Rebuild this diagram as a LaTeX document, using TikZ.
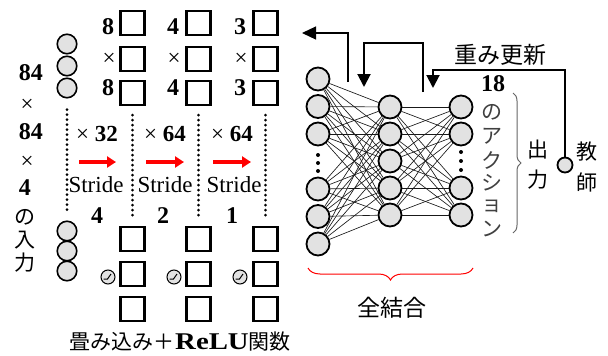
\documentclass[tikz,border=0pt]{standalone}
\usepackage{fontspec}
\usepackage{graphicx}
\setmainfont{Liberation Serif}
\newfontfamily\jpfont{Noto Sans CJK JP}
\usetikzlibrary{arrows.meta,decorations.pathreplacing}
\definecolor{cfill}{HTML}{E2E2E2}
\definecolor{cred}{HTML}{FF0000}
\begin{document}
\begin{tikzpicture}[x=1pt,y=-1pt,
 incirc/.style={circle,draw,line width=1.6pt,fill=cfill,minimum size=19.5pt,inner sep=0pt},
 nncirc/.style={circle,draw,line width=1.8pt,fill=cfill,minimum size=23pt,inner sep=0pt},
 sq/.style={draw,line width=2.2pt,minimum size=24pt,inner sep=0pt},
 lat/.style={font=\fontsize{23}{23}\selectfont,inner sep=0pt},
 latb/.style={font=\fontsize{24}{24}\selectfont\bfseries,inner sep=0pt},
 jp/.style={font=\jpfont\fontsize{21}{21}\selectfont,inner sep=0pt},
 jpb/.style={font=\jpfont\fontsize{23}{23}\selectfont,inner sep=0pt},
 dotline/.style={line width=3pt,dash pattern=on 0pt off 5pt,line cap=round},
 redarrow/.style={draw=cred,line width=4pt,-{Triangle[length=9pt,width=11pt]}},
 conn/.style={line width=0.65pt,black!90},
 fb/.style={line width=2pt,-{Triangle[length=13pt,width=13pt]}},
 reluc/.style={circle,draw,line width=1pt,fill=cfill,minimum size=14pt,inner sep=0pt},
 dotc/.style={circle,fill,inner sep=0pt,minimum size=4pt},
]
\useasboundingbox (0,0) rectangle (608,356);

% ---- input column ----
\foreach \n/\y in {1/44,2/66,3/88,4/231,5/251,6/271}
  \node[incirc] (i\n) at (67,\y) {};
\draw[dotline] ([yshift=-11pt]i3.south) -- ([yshift=9pt]i4.north);

% left label
\node[latb] (L1) at (31,73) {84};
\node[lat]  (L2) at (27,105) {×};
\node[latb] (L3) at (31,132) {84};
\node[lat]  (L4) at (27,162) {×};
\node[latb] (L5) at (25,188) {4};
\node[jp]   (L6) at (25,217) {の};
\node[jp]   (L7) at (25,240) {入};
\node[jp]   (L8) at (25,263) {力};

% ---- conv columns ----
\foreach \c/\x in {1/132.5,2/198.5,3/265.5}{
  \foreach \r/\y in {1/23,2/59,3/93}
    \node[sq] (t\c\r) at (\x,\y) {};
  \foreach \r/\y in {1/239,2/274,3/309}
    \node[sq] (b\c\r) at (\x,\y) {};
  \draw[dotline] ([yshift=-9pt]t\c3.south) -- ([yshift=9pt]b\c1.north);
}
\foreach \c/\x/\d in {1/108/8,2/173/4,3/240/3}{
  \node[latb] (d\c a) at (\x,27) {\d};
  \node[lat]  (d\c b) at (\x+1,59) {×};
  \node[latb] (d\c c) at (\x,88) {\d};
}
\node[lat] (k1) at (97,134) {× \textbf{32}};
\node[lat] (k2) at (165,134) {× \textbf{64}};
\node[lat] (k3) at (232,134) {× \textbf{64}};

\coordinate (ra1) at (79,162);  \coordinate (rb1) at (116,162);
\coordinate (ra2) at (146,162); \coordinate (rb2) at (184,162);
\coordinate (ra3) at (213,162); \coordinate (rb3) at (251,162);
\foreach \k in {1,2,3} \draw[redarrow] (ra\k) -- (rb\k);

\node[lat] (s1) at (96,185) {Stride};
\node[lat] (s2) at (165,185) {Stride};
\node[lat] (s3) at (234,185) {Stride};
\node[latb] (n1) at (97,216) {4};
\node[latb] (n2) at (163,216) {2};
\node[latb] (n3) at (232,216) {1};

% relu symbols
\foreach \k/\x in {1/108,2/174,3/240}{
  \node[reluc] (r\k) at (\x,277) {};
  \draw[line width=1pt] ([shift={(-4.5,2)}]r\k.center) -- ++(4,0) -- ++(3.5,-5);
}

% bottom label
\node[jp,anchor=base east] (bl1) at (175,349) {畳み込み＋};
\node[latb,anchor=base] (bl2) at (212,349) {\scalebox{1.2}[1]{ReLU}};
\node[jp,anchor=base west] (bl3) at (248,349) {関数};

% ---- fully connected ----
\foreach \n/\y in {1/79,2/106.5,3/134,4/189,5/216.5,6/244}
  \node[nncirc] (l\n) at (318,\y) {};
\foreach \n/\y in {1/107,2/134,3/161,4/188,5/215}
  \node[nncirc] (m\n) at (390,\y) {};
\foreach \n/\y in {1/107,2/134,3/188,4/215}
  \node[nncirc] (o\n) at (461,\y) {};
\foreach \a in {1,...,6}
  \foreach \b in {1,...,5}
    \draw[conn] (l\a) -- (m\b);
\foreach \a in {1,...,5}
  \foreach \b in {1,...,4}
    \draw[conn] (m\a) -- (o\b);
\foreach \y [count=\k] in {155,163,171} \node[dotc] (ld\k) at (318,\y) {};
\foreach \y [count=\k] in {152,161,170} \node[dotc] (rd\k) at (461,\y) {};

% feedback arrows
\coordinate (fa1) at (348,82);
\coordinate (fa2) at (302,33);
\draw[line width=1.2pt,-{Triangle[length=14pt,width=13pt]}] (fa1) |- (fa2);
\coordinate (fb1) at (423,92);
\coordinate (fb2) at (364,87);
\draw[fb] (fb1) -- ++(0,-49) -| (fb2);
\node[circle,draw,line width=1.8pt,fill=cfill,minimum size=15pt,inner sep=0pt] (tch) at (565,165) {};
\coordinate (fc0) at (565,70);
\coordinate (fc) at (433,88);
\draw[fb] (tch.north) -- (fc0) -| (fc);

\node[jpb] (upd) at (500,55) {重み更新};
\node[latb] (a18) at (493,84) {18};
\foreach \ch/\y [count=\k] in {の/112,ア/136,ク/160,シ/183,ョ/206,ン/229}
  \node[jp,text=black!75] (ac\k) at (492,\y) {\ch};
\draw[black!60,line width=1pt,decorate,decoration={brace,amplitude=8pt}] (513,93) -- (513,233);
\node[jp] (out1) at (538,150) {出};
\node[jp] (out2) at (538,180) {力};
\node[jp] (tc1) at (587,152) {教};
\node[jp] (tc2) at (587,182) {師};

\draw[cred,line width=1pt,decorate,decoration={brace,amplitude=12pt}] (473,268) -- (308,268);
\node[jpb] (fc3) at (392,308) {全結合};
\end{tikzpicture}
\end{document}
